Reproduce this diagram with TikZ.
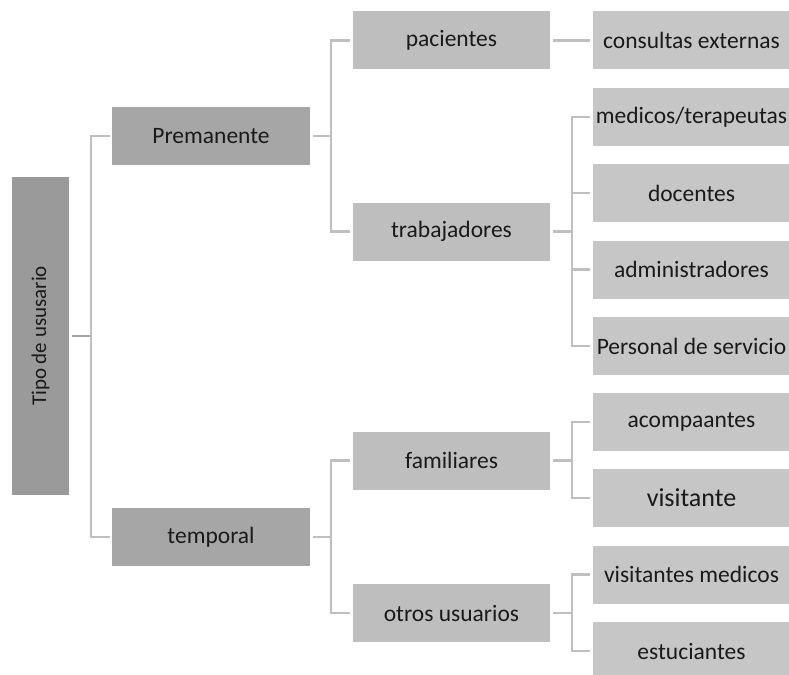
\documentclass[tikz,border=0pt]{standalone}
\usepackage{fontspec}
\setmainfont{Carlito}
\definecolor{cR}{HTML}{9A9A9A}
\definecolor{cA}{HTML}{A6A6A6}
\definecolor{cB}{HTML}{BEBEBE}
\definecolor{cC}{HTML}{C6C6C6}
\definecolor{lineC}{HTML}{BFBFBF}
\definecolor{lineD}{HTML}{A5A5A5}
\definecolor{txt}{HTML}{1A1A1A}
\begin{document}
\begin{tikzpicture}[x=1pt,y=-1pt,
  box/.style={rectangle, inner sep=0pt, minimum width=197pt, minimum height=58pt,
    font=\fontsize{23.5}{28}\selectfont, text=txt},
  lvlA/.style={box, fill=cA, minimum width=198pt},
  lvlB/.style={box, fill=cB},
  leaf/.style={box, fill=cC},
  conn/.style={draw=lineC, line width=2.5pt},
  connD/.style={draw=lineD, line width=2.5pt},
]
\useasboundingbox (0,0) rectangle (789,674);
% root
\node[rotate=90, fill=cR, inner sep=0pt, minimum width=318pt, minimum height=57pt,
  font=\fontsize{21}{25}\selectfont, text=txt] (root) at (40.5,336) {Tipo de ususario};
% level 1
\node[lvlA] (prem) at (211,136) {Premanente};
\node[lvlA] (temp) at (211,537) {temporal};
% level 2
\node[lvlB] (pac)  at (451.5,40.5) {pacientes};
\node[lvlB] (trab) at (451.5,231.5) {trabajadores};
\node[lvlB] (fam)  at (451.5,460.5) {familiares};
\node[lvlB] (otr)  at (451.5,613) {otros usuarios};
% leaves
\node[leaf] (cons) at (691.5,40.5) {consultas externas};
\node[leaf] (med)  at (691.5,117) {medicos/terapeutas};
\node[leaf] (doc)  at (691.5,193) {docentes};
\node[leaf] (adm)  at (691.5,269.5) {administradores};
\node[leaf] (pers) at (691.5,346) {Personal de servicio};
\node[leaf] (acom) at (691.5,422) {acompaantes};
\node[leaf, font=\fontsize{26}{30}\selectfont] (vis)  at (691.5,498) {visitante};
\node[leaf] (vmed) at (691.5,574.5) {visitantes medicos};
\node[leaf] (est)  at (691.5,651) {estuciantes};
% connectors: root
\coordinate (rbus) at ([xshift=22pt]root.south);
\draw[connD] ([xshift=3pt]root.south) -- (rbus);
\draw[conn] (rbus) |- ([xshift=-2pt]prem.west);
\draw[conn] (rbus) |- ([xshift=-2pt]temp.west);
% Premanente
\coordinate (pbus) at ([xshift=21pt]prem.east);
\draw[conn] ([xshift=3pt]prem.east) -- (pbus) |- ([xshift=-3pt]pac.west);
\draw[conn] (pbus) |- ([xshift=-3pt]trab.west);
% temporal
\coordinate (tbus) at ([xshift=21pt]temp.east);
\draw[conn] ([xshift=3pt]temp.east) -- (tbus) |- ([xshift=-3pt]fam.west);
\draw[conn] (tbus) |- ([xshift=-3pt]otr.west);
% pacientes
\draw[conn] ([xshift=3pt]pac.east) -- ([xshift=-3pt]cons.west);
% trabajadores
\coordinate (wbus) at ([xshift=22pt]trab.east);
\draw[conn] ([xshift=3pt]trab.east) -- (wbus);
\draw[conn] (wbus) |- ([xshift=-3pt]med.west);
\draw[conn] (wbus) |- ([xshift=-3pt]doc.west);
\draw[conn] (wbus) |- ([xshift=-3pt]adm.west);
\draw[conn] (wbus) |- ([xshift=-3pt]pers.west);
% familiares
\coordinate (fbus) at ([xshift=22pt]fam.east);
\draw[conn] ([xshift=3pt]fam.east) -- (fbus);
\draw[conn] (fbus) |- ([xshift=-3pt]acom.west);
\draw[conn] (fbus) |- ([xshift=-3pt]vis.west);
% otros usuarios
\coordinate (obus) at ([xshift=22pt]otr.east);
\draw[conn] ([xshift=3pt]otr.east) -- (obus);
\draw[conn] (obus) |- ([xshift=-3pt]vmed.west);
\draw[conn] (obus) |- ([xshift=-3pt]est.west);
\end{tikzpicture}
\end{document}
